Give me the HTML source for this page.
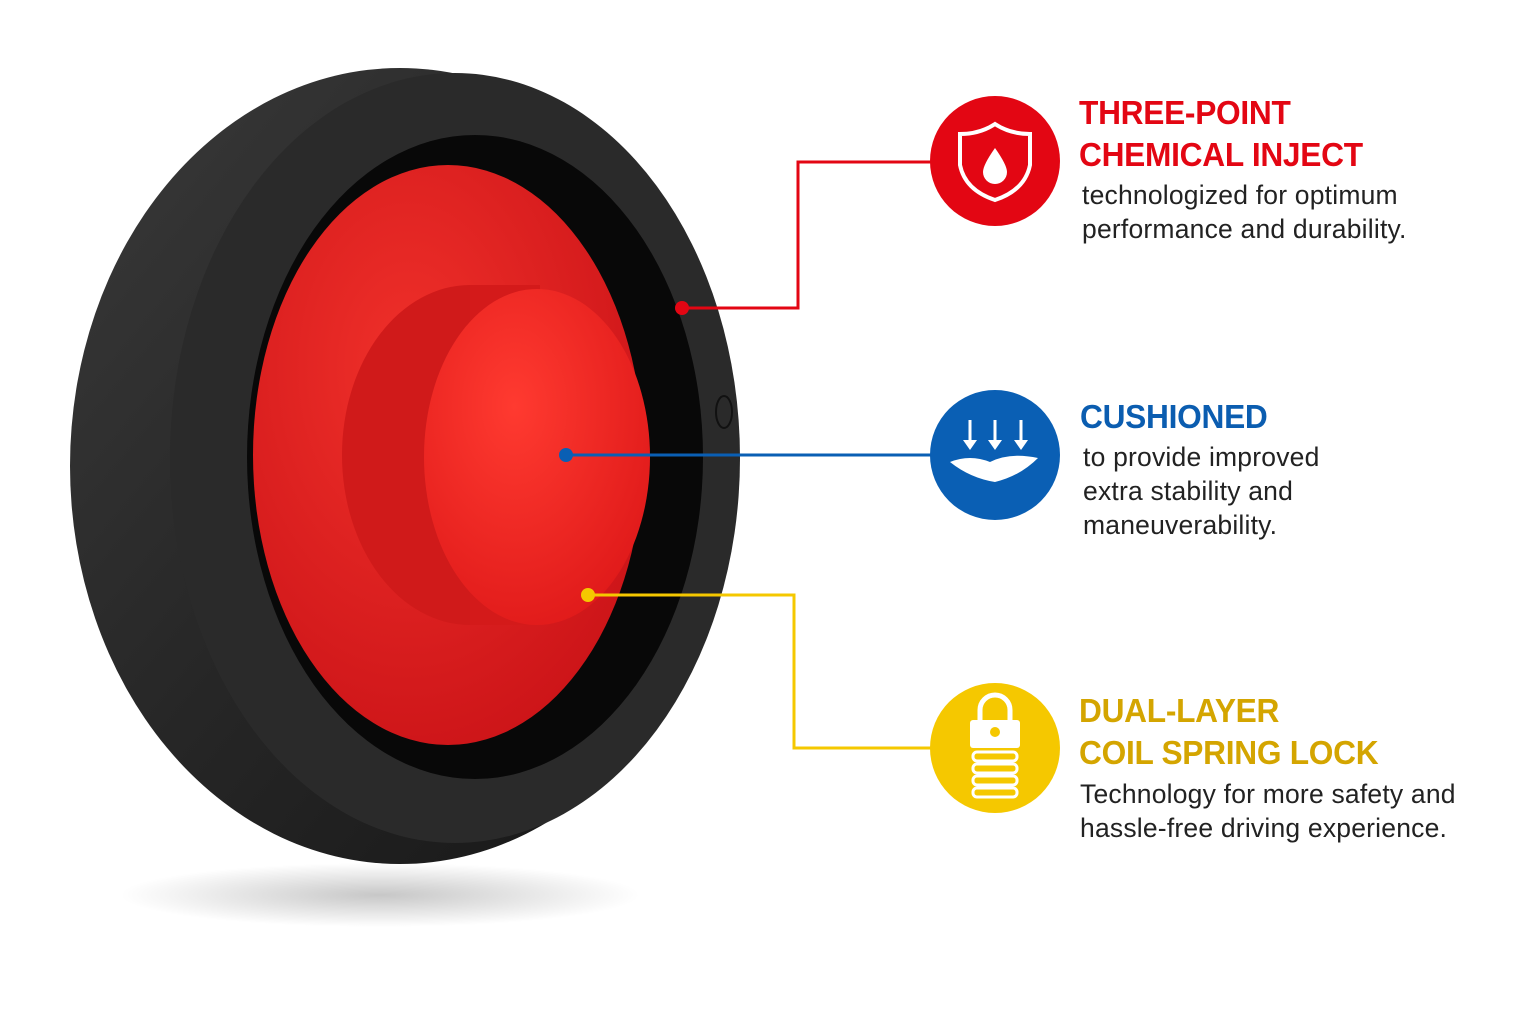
<!DOCTYPE html>
<html><head><meta charset="utf-8"><style>
html,body{margin:0;padding:0;background:#fff;}
body{width:1536px;height:1024px;overflow:hidden;position:relative;font-family:"Liberation Sans",sans-serif;}
.h{position:absolute;font-weight:bold;font-size:33px;line-height:42px;letter-spacing:-0.3px;transform:scaleX(0.96);transform-origin:left top;}
.t{position:absolute;font-size:26.5px;line-height:34px;color:#222;letter-spacing:0.2px;}
</style></head><body>
<svg width="1536" height="1024" style="position:absolute;left:0;top:0">
<defs>
<radialGradient id="sh" cx="50%" cy="50%" r="50%"><stop offset="0" stop-color="#000" stop-opacity="0.22"/><stop offset="1" stop-color="#000" stop-opacity="0"/></radialGradient>
<linearGradient id="tire" x1="0" y1="0" x2="1" y2="1"><stop offset="0" stop-color="#3a3a3a"/><stop offset="0.5" stop-color="#262626"/><stop offset="1" stop-color="#151515"/></linearGradient>
<radialGradient id="red" cx="40%" cy="35%" r="70%"><stop offset="0" stop-color="#f0302a"/><stop offset="1" stop-color="#cc1418"/></radialGradient>
<radialGradient id="hub" cx="40%" cy="35%" r="70%"><stop offset="0" stop-color="#ff3a30"/><stop offset="1" stop-color="#e01a1a"/></radialGradient>
</defs>
<ellipse cx="380" cy="895" rx="260" ry="32" fill="url(#sh)"/>
<ellipse cx="400" cy="466" rx="330" ry="398" fill="url(#tire)"/>
<ellipse cx="455" cy="458" rx="285" ry="385" fill="#2a2a2a"/>
<ellipse cx="475" cy="457" rx="228" ry="322" fill="#080808"/>
<ellipse cx="448" cy="455" rx="195" ry="290" fill="url(#red)"/>
<ellipse cx="470" cy="455" rx="128" ry="170" fill="#d01a1a"/>
<rect x="470" y="285" width="70" height="340" fill="#d41a1a"/>
<ellipse cx="537" cy="457" rx="113" ry="168" fill="url(#hub)"/>
<ellipse cx="724" cy="412" rx="8" ry="16" fill="none" stroke="#111" stroke-width="2"/>
<polyline points="932,162 798,162 798,308 682,308" fill="none" stroke="#e30613" stroke-width="3"/>
<circle cx="682" cy="308" r="7" fill="#e30613"/>
<line x1="932" y1="455" x2="566" y2="455" stroke="#0a5fb4" stroke-width="3"/>
<circle cx="566" cy="455" r="7" fill="#0a5fb4"/>
<polyline points="932,748 794,748 794,595 588,595" fill="none" stroke="#f5c800" stroke-width="3"/>
<circle cx="588" cy="595" r="7" fill="#f5c800"/>
<circle cx="995" cy="161" r="65" fill="#e30613"/>
<path d="M995 124 Q1010 134 1030 134 L1030 165 Q1025 190 995 200 Q965 190 960 165 L960 134 Q980 134 995 124Z" fill="none" stroke="#fff" stroke-width="4"/>
<path d="M995 148 Q983 165 983 172 A12 12 0 0 0 1007 172 Q1007 165 995 148Z" fill="#fff"/>
<circle cx="995" cy="455" r="65" fill="#0a5fb4"/>
<g stroke="#fff" stroke-width="3" fill="#fff">
<line x1="970" y1="420" x2="970" y2="444"/><line x1="995" y1="420" x2="995" y2="444"/><line x1="1021" y1="420" x2="1021" y2="444"/>
<path d="M963 440 L970 450 L977 440Z M988 440 L995 450 L1002 440Z M1014 440 L1021 450 L1028 440Z" stroke="none"/>
</g>
<path d="M950 462 Q970 454 990 462 Q1010 452 1038 458 Q1020 476 995 482 Q970 478 950 462Z" fill="#fff"/>
<circle cx="995" cy="748" r="65" fill="#f5c800"/>
<path d="M980 722 L980 710 A15 15 0 0 1 1010 710 L1010 722" fill="none" stroke="#fff" stroke-width="5"/>
<rect x="970" y="720" width="50" height="28" rx="3" fill="#fff"/>
<circle cx="995" cy="732" r="5" fill="#f5c800"/>
<g fill="none" stroke="#fff" stroke-width="3"><rect x="973" y="752" width="44" height="9" rx="4"/><rect x="973" y="764" width="44" height="9" rx="4"/><rect x="973" y="776" width="44" height="9" rx="4"/><rect x="973" y="788" width="44" height="9" rx="4"/></g>
</svg>
<div class="h" style="left:1079px;top:92px;color:#e30613">THREE-POINT<br>CHEMICAL INJECT</div>
<div class="t" style="left:1082px;top:178px">technologized for optimum<br>performance and durability.</div>
<div class="h" style="left:1080px;top:396px;color:#0b5db0">CUSHIONED</div>
<div class="t" style="left:1083px;top:440px">to provide improved<br>extra stability and<br>maneuverability.</div>
<div class="h" style="left:1079px;top:690px;color:#d4a500">DUAL-LAYER<br>COIL SPRING LOCK</div>
<div class="t" style="left:1080px;top:777px">Technology for more safety and<br>hassle-free driving experience.</div>
</body></html>
